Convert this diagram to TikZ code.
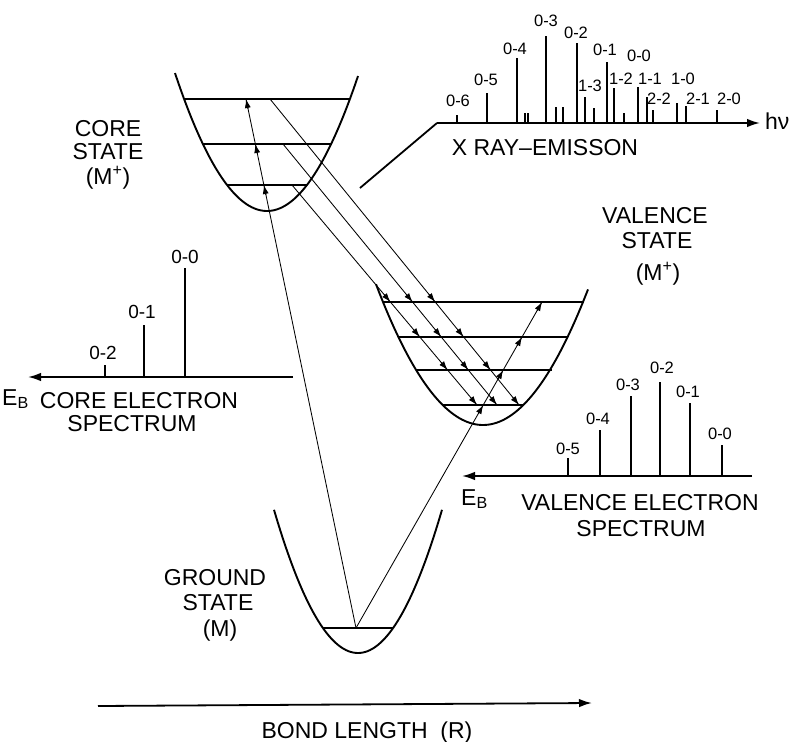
\documentclass[tikz,border=0pt]{standalone}
\usepackage{fontspec}
\setmainfont{Liberation Sans}
\usetikzlibrary{arrows.meta,calc,intersections}
\begin{document}
\begin{tikzpicture}[x=1pt,y=-1pt,
  pot/.style={line width=1.9pt},
  lev/.style={line width=1.8pt},
  ray/.style={line width=0.85pt},
  spec/.style={line width=1.4pt},
  axis/.style={line width=1.8pt},
  bigtip/.style={-{Latex[length=13pt,width=8.5pt]}},
  smalltip/.style={-{Latex[length=9pt,width=6pt]}, line width=0.85pt},
  lbl/.style={font=\fontsize{23}{23}\selectfont, inner sep=0pt, text height=16.5pt, text depth=0pt},
  num/.style={font=\fontsize{16.5}{16.5}\selectfont, inner sep=0pt, text height=12pt, text depth=0pt},
  cnum/.style={font=\fontsize{19}{19}\selectfont, inner sep=0pt, text height=13.5pt, text depth=0pt}]
\useasboundingbox (0,0) rectangle (807,742);

% ---------- potential curves ----------
\draw[pot] plot[domain=175:358,samples=80,smooth] (\x,{211-0.0163*(\x-267)^2});
\draw[pot] plot[domain=376:588,samples=80,smooth] (\x,{425-0.0123*(\x-483)^2});
\draw[pot] plot[domain=274:442,samples=80,smooth] (\x,{653-0.0203*(\x-358)^2});

% ---------- vibrational levels ----------
\draw[lev] (184,99) -- (350,99);
\draw[lev] (203,144) -- (331,144);
\draw[lev] (227,185) -- (307,185);
\draw[lev] (383,302) -- (584,302);
\draw[lev] (398,337) -- (568,337);
\draw[lev] (416,370) -- (552,370);
\draw[lev] (443,405) -- (523,405);
\draw[lev] (323,628) -- (393,628);

% invisible full-width level paths for intersections
\path[name path=c1] (0,99) -- (807,99);
\path[name path=c2] (0,144) -- (807,144);
\path[name path=c3] (0,185) -- (807,185);
\path[name path=v1] (0,302) -- (807,302);
\path[name path=v2] (0,337) -- (807,337);
\path[name path=v3] (0,370) -- (807,370);
\path[name path=v4] (0,405) -- (807,405);

% ---------- transition lines ----------
\coordinate (g0) at (356,628);
\coordinate (gc) at (246,99);
\coordinate (gv) at (542,302);
\coordinate (se1) at (270,99);
\coordinate (se2) at (283,144);
\coordinate (se3) at (292,185);
\coordinate (te1) at (519,405);
\coordinate (te2) at (497,405);
\coordinate (te3) at (477,405);

\draw[ray] (g0) -- (gc);
\draw[ray] (g0) -- (gv);
\draw[ray] (se1) -- (te1);
\draw[ray] (se2) -- (te2);
\draw[ray] (se3) -- (te3);

\path[name path=ga] (g0) -- ($(g0)!1.05!(gc)$);
\path[name path=gb] (g0) -- ($(g0)!1.05!(gv)$);
\path[name path=ea] ($(se1)!-0.05!(te1)$) -- ($(se1)!1.05!(te1)$);
\path[name path=eb] ($(se2)!-0.05!(te2)$) -- ($(se2)!1.05!(te2)$);
\path[name path=ec] ($(se3)!-0.05!(te3)$) -- ($(se3)!1.05!(te3)$);

\path[name intersections={of=ga and c1, by=ga1}];
\path[name intersections={of=ga and c2, by=ga2}];
\path[name intersections={of=ga and c3, by=ga3}];
\path[name intersections={of=gb and v1, by=gb1}];
\path[name intersections={of=gb and v2, by=gb2}];
\path[name intersections={of=gb and v3, by=gb3}];
\path[name intersections={of=gb and v4, by=gb4}];
\path[name intersections={of=ea and v1, by=ea1}];
\path[name intersections={of=ea and v2, by=ea2}];
\path[name intersections={of=ea and v3, by=ea3}];
\path[name intersections={of=ea and v4, by=ea4}];
\path[name intersections={of=eb and v1, by=eb1}];
\path[name intersections={of=eb and v2, by=eb2}];
\path[name intersections={of=eb and v3, by=eb3}];
\path[name intersections={of=eb and v4, by=eb4}];
\path[name intersections={of=ec and v1, by=ec1}];
\path[name intersections={of=ec and v2, by=ec2}];
\path[name intersections={of=ec and v3, by=ec3}];
\path[name intersections={of=ec and v4, by=ec4}];

\foreach \p in {ga1,ga2,ga3,gb1,gb2,gb3,gb4}{
  \draw[smalltip] ($(\p)!10pt!(g0)$) -- (\p);
}
\foreach \p in {ea1,ea2,ea3,ea4}{ \draw[smalltip] ($(\p)!10pt!(se1)$) -- (\p); }
\foreach \p in {eb1,eb2,eb3,eb4}{ \draw[smalltip] ($(\p)!10pt!(se2)$) -- (\p); }
\foreach \p in {ec1,ec2,ec3,ec4}{ \draw[smalltip] ($(\p)!10pt!(se3)$) -- (\p); }

% ---------- X-ray emission spectrum ----------
\coordinate (x0) at (437,123);
\coordinate (x1) at (760,123);
\coordinate (xd) at (360,188);
\draw[axis,bigtip] (x0) -- (x1);
\draw[axis] (x0) -- (xd);
\foreach \px/\pt in {457/115,487/93,517/58,525/113,528/113,546/36,556/107,563/107,
  577/43,585/97,594/108,607/62,614/88,624/113,638/87,647/97,653/110,677/103,686/106,717/110}{
  \draw[spec] (\px,123) -- (\px,\pt);
}
\node[num] (x06) at (458,100) {0-6};
\node[num] (x05) at (486,79) {0-5};
\node[num] (x04) at (515,48) {0-4};
\node[num] (x03) at (546,20) {0-3};
\node[num] (x02) at (576,32) {0-2};
\node[num] (x13) at (590,85) {1-3};
\node[num] (x01) at (605,49) {0-1};
\node[num] (x12) at (621,78) {1-2};
\node[num] (x00) at (639,55) {0-0};
\node[num] (x11) at (650,78) {1-1};
\node[num] (x10) at (683,78) {1-0};
\node[num] (x22) at (659,98) {2-2};
\node[num] (x21) at (698,98) {2-1};
\node[num] (x20) at (729,98) {2-0};
\node[lbl,anchor=west] (hnu) at (765,121) {hν};
\node[lbl] (xray) at (545,147) {X RAY–EMISSON};

% ---------- core electron spectrum ----------
\coordinate (ca) at (293,377);
\coordinate (cb) at (28,377);
\draw[axis,bigtip] (ca) -- (cb);
\foreach \px/\pt in {105/365,144/325,185/268}{
  \draw[spec] (\px,377) -- (\px,\pt);
}
\node[cnum] (c02) at (103,353) {0-2};
\node[cnum] (c01) at (142,312) {0-1};
\node[cnum] (c00) at (185,257) {0-0};
\node[lbl,anchor=west] (ceE) at (2,397) {E\textsubscript{B}};
\node[lbl] (ceA) at (139,400) {CORE ELECTRON};
\node[lbl] (ceS) at (132,423) {SPECTRUM};

% ---------- valence electron spectrum ----------
\coordinate (va) at (752,476);
\coordinate (vb) at (462,476);
\draw[axis,bigtip] (va) -- (vb);
\foreach \px/\pt in {568/458,600/430,631/396,660/382,690/403,722/445}{
  \draw[spec] (\px,476) -- (\px,\pt);
}
\node[num] (v05) at (568,448) {0-5};
\node[num] (v04) at (598,418) {0-4};
\node[num] (v03) at (628,384) {0-3};
\node[num] (v02) at (662,367) {0-2};
\node[num] (v01) at (688,391) {0-1};
\node[num] (v00) at (720,433) {0-0};
\node[lbl,anchor=west] (veE) at (461,497) {E\textsubscript{B}};
\node[lbl] (veA) at (640,502) {VALENCE ELECTRON};
\node[lbl] (veS) at (641,528) {SPECTRUM};

% ---------- state labels ----------
\node[lbl] (csA) at (108,128) {CORE};
\node[lbl] (csB) at (108,151) {STATE};
\node[lbl] (csC) at (108,176) {(M\textsuperscript{+})};
\node[lbl] (vsA) at (655,215) {VALENCE};
\node[lbl] (vsB) at (657,240) {STATE};
\node[lbl] (vsC) at (658,272) {(M\textsuperscript{+})};
\node[lbl] (gsA) at (215,577) {GROUND};
\node[lbl] (gsB) at (218,602) {STATE};
\node[lbl] (gsC) at (220,628) {(M)};

% ---------- bond length axis ----------
\coordinate (ba) at (98,706);
\coordinate (bb) at (592,703);
\draw[axis,bigtip] (ba) -- (bb);
\node[lbl] (bl) at (367,730) {BOND LENGTH~~(R)};
\end{tikzpicture}
\end{document}
